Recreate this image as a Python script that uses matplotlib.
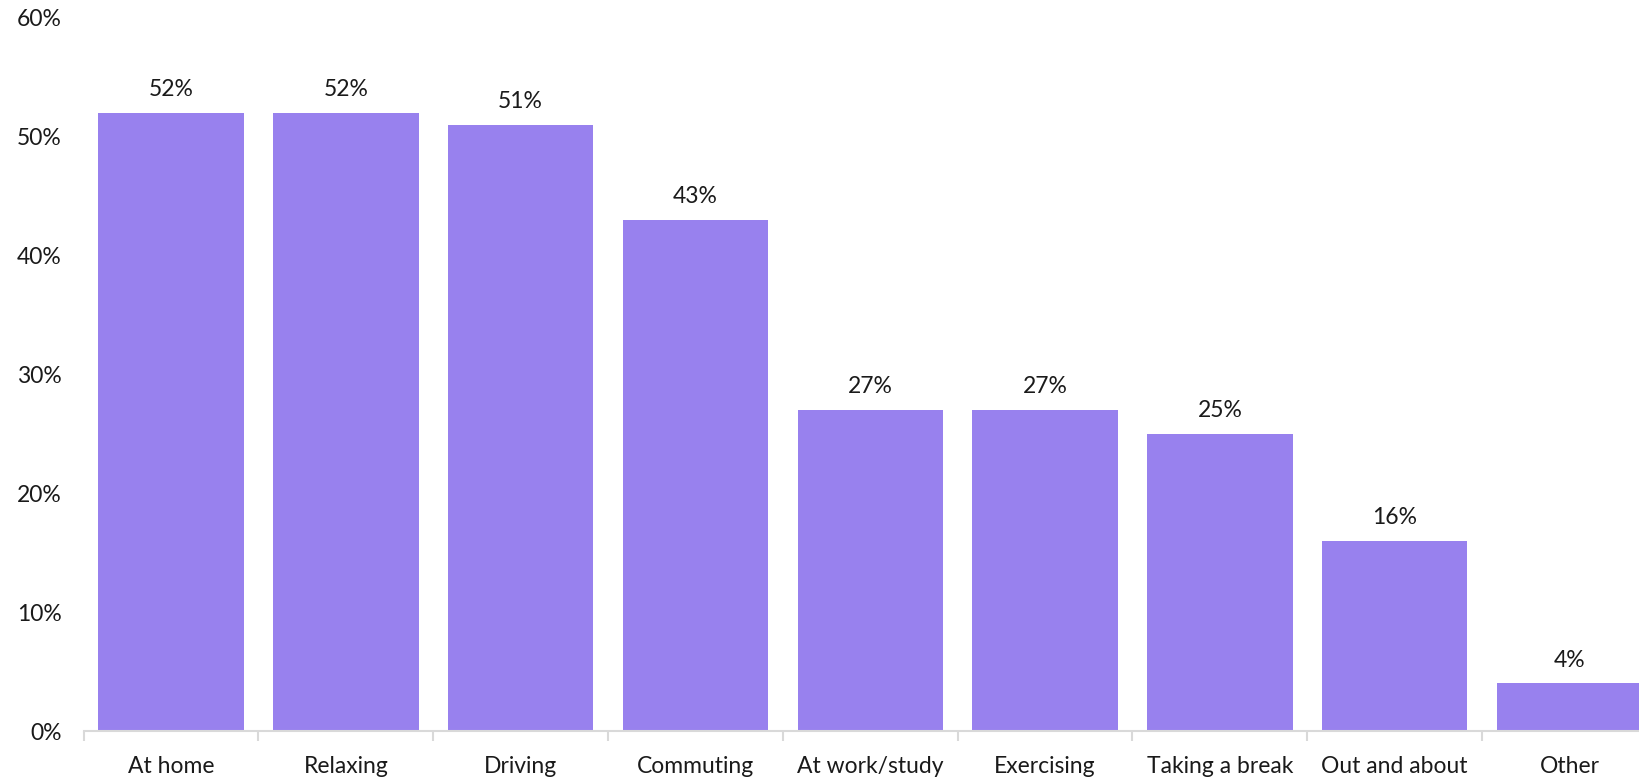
import matplotlib.pyplot as plt
import numpy as np

categories = ['At home', 'Relaxing', 'Driving', 'Commuting', 'At work/study',
              'Exercising', 'Taking a break', 'Out and about', 'Other']
values = [52, 52, 51, 43, 27, 27, 25, 16, 4]
yticks = [0, 10, 20, 30, 40, 50, 60]

plt.rcParams['font.family'] = ['Lato', 'DejaVu Sans']

fig = plt.figure(figsize=(16.4, 7.79), dpi=100)
ax = fig.add_axes([0.051, 0.0616, 0.9593, 0.9155])

x = np.arange(len(categories))
bars = ax.bar(x, values, width=0.832, color='#9881ee')

for b, v in zip(bars, values):
    ax.annotate(f'{v}%', (b.get_x() + b.get_width() / 2, v), xytext=(0, 12),
                textcoords='offset points', ha='center', va='baseline',
                fontsize=16.5, color='#1a1a1a')

ax.set_xlim(-0.5, len(categories) - 0.5)
ax.set_ylim(0, 60)
ax.set_yticks(yticks)
ax.set_yticklabels([f'{t}%' for t in yticks])
ax.set_xticks(x)
ax.set_xticklabels(categories)
ax.set_xticks(np.arange(len(categories) + 1) - 0.5, minor=True)

ax.tick_params(axis='y', length=0, pad=16, labelsize=16.5, labelcolor='#1a1a1a')
ax.tick_params(axis='x', which='major', length=0, pad=18, labelsize=16.5, labelcolor='#1a1a1a')
ax.tick_params(axis='x', which='minor', length=7, width=1.5, color='#d9d9d9')

for s in ['top', 'right', 'left']:
    ax.spines[s].set_visible(False)
ax.spines['bottom'].set_color('#d9d9d9')
ax.spines['bottom'].set_linewidth(1.5)

fig.savefig('out.png', dpi=100)
